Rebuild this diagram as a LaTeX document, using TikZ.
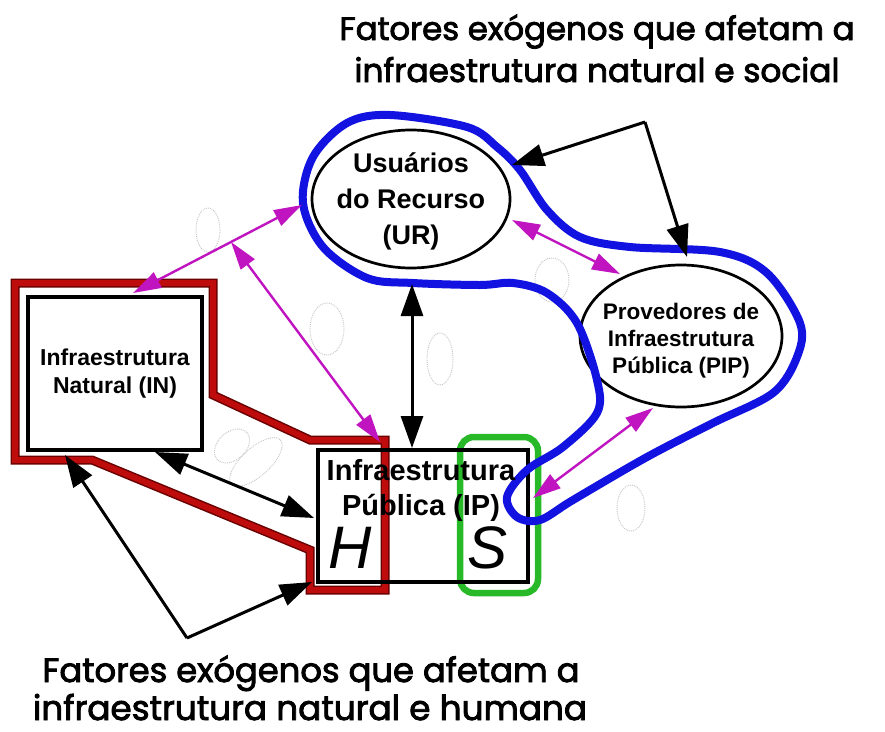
\documentclass[tikz,border=0pt]{standalone}
\usepackage{graphicx}
\usepackage{fontspec}
\setmainfont{Liberation Sans}
\newfontfamily\titlefont[FakeBold=2.5]{Poppins}
\usetikzlibrary{shapes.geometric,arrows.meta,calc}
\definecolor{myblue}{RGB}{18,18,225}
\definecolor{myred}{RGB}{190,12,12}
\definecolor{darkred}{RGB}{105,0,0}
\definecolor{mygreen}{RGB}{40,185,40}
\definecolor{mymag}{RGB}{192,20,192}
\begin{document}
\begin{tikzpicture}[x=1pt,y=-1pt,
  blk/.style={line width=3pt, black},
  bar/.style={blk,{Triangle[length=32pt,width=22pt]}-{Triangle[length=32pt,width=22pt]}},
  sar/.style={blk,-{Triangle[length=32pt,width=22pt]}},
  mag/.style={line width=2.4pt, mymag, {Triangle[length=28pt,width=17pt]}-{Triangle[length=28pt,width=17pt]}},
  ghost/.style={gray!45, densely dotted, line width=0.9pt},
  oval/.style={ellipse, draw, line width=2.7pt, fill=white, inner sep=0pt},
  boxn/.style={rectangle, draw, line width=3.2pt, inner sep=0pt},
  lbl/.style={align=center, inner sep=0pt, font=\bfseries},
  ttl/.style={inner sep=0pt, anchor=base},
  big/.style={inner sep=0pt, font=\fontsize{60}{60}\selectfont\itshape}
]
\useasboundingbox[fill=white] (0,0) rectangle (885,731);

% faint ghost ellipses
\draw[ghost] (208,230) ellipse [x radius=12, y radius=22];
\draw[ghost] (327,329) ellipse [x radius=17, y radius=26];
\draw[ghost] (440,359) ellipse [x radius=13, y radius=26];
\draw[ghost] (552,280) ellipse [x radius=17, y radius=22];
\draw[ghost] (631,508) ellipse [x radius=14, y radius=23];
\draw[ghost, rotate around={42:(256,462)}] (256,462) ellipse [x radius=33, y radius=14];
\draw[ghost, rotate around={42:(232,446)}] (232,446) ellipse [x radius=20, y radius=14];

% titles
\node[ttl] (t1) at (597,40) {\titlefont\resizebox{515pt}{!}{Fatores exógenos que afetam a}};
\node[ttl] (t2) at (597,82) {\titlefont\resizebox{485pt}{!}{infraestrutura natural e social}};
\node[ttl] (b1) at (311,682) {\titlefont\resizebox{537pt}{!}{Fatores exógenos que afetam a}};
\node[ttl] (b2) at (310,720) {\titlefont\resizebox{554pt}{!}{infraestrutura natural e humana}};

% IP box fill
\node[rectangle, fill=white, minimum width=210pt, minimum height=132pt, inner sep=0pt] (ipfill) at (423,516) {};

% red outline (natural/human)
\draw[darkred, line width=9pt, line join=miter]
  (15,283) -- (213,283) -- (213,395) -- (310,440) -- (385,440) -- (385,590)
  -- (310,590) -- (310,550) -- (92,460) -- (15,460) -- cycle;
\draw[myred, line width=6pt, line join=miter]
  (15,283) -- (213,283) -- (213,395) -- (310,440) -- (385,440) -- (385,590)
  -- (310,590) -- (310,550) -- (92,460) -- (15,460) -- cycle;

% green rounded rectangle (S)
\draw[mygreen, line width=6.5pt, rounded corners=14pt] (460,437) rectangle (538,593);

% boxes
\node[boxn, fill=white, minimum width=174pt, minimum height=153pt] (in) at (115,373.5) {};
\node[boxn, minimum width=210pt, minimum height=132pt] (ip) at (423,516) {};

% ellipses
\node[oval, minimum width=198pt, minimum height=138pt] (ur) at (411,199) {};
\node[oval, minimum width=202pt, minimum height=142pt] (pip) at (681,336) {};

% blue loop
\draw[myblue, line width=8pt] plot[smooth cycle, tension=0.55] coordinates {
  (390,115) (467,127) (497,147) (520,170) (547,210) (580,237) (630,247)
  (720,252) (767,273) (800,323) (797,357) (773,393) (713,423) (647,457)
  (573,500) (540,520) (517,517) (507,497) (527,470) (563,447) (597,413)
  (597,380) (577,323) (547,293) (513,283) (480,285) (413,283) (367,278)
  (323,247) (303,203) (313,157) (347,123)};

% coordinates for connectors
\coordinate (topx) at (645,122);
\coordinate (urNE) at (512,165);
\coordinate (pipN) at (687,257);
\coordinate (urS) at (412,284);
\coordinate (ipN) at (412,448);
\coordinate (inS) at (155,452);
\coordinate (ipW) at (314,518);
\coordinate (botx) at (187,638);
\coordinate (inSW) at (65,455);
\coordinate (ipSW) at (312,582);
\coordinate (inN) at (133,293);
\coordinate (urW) at (302,205);
\coordinate (midA) at ($(inN)!0.58!(urW)$);
\coordinate (ipNW) at (380,442);
\coordinate (urSE) at (512,220);
\coordinate (pipNW) at (620,274);
\coordinate (pipS) at (653,408);
\coordinate (ipE) at (533,498);

% black connectors
\draw[sar] (topx) -- (urNE);
\draw[sar] (topx) -- (pipN);
\draw[bar] (urS) -- (ipN);
\draw[bar] (inS) -- (ipW);
\draw[sar] (botx) -- (inSW);
\draw[sar] (botx) -- (ipSW);

% magenta connectors
\draw[mag] (inN) -- (urW);
\draw[mag] (midA) -- (ipNW);
\draw[mag] (urSE) -- (pipNW);
\draw[mag] (pipS) -- (ipE);

% labels
\node[lbl, font=\bfseries\fontsize{27}{36}\selectfont] (urt) at (411,201) {Usuários\\do Recurso\\(UR)};
\node[lbl, font=\bfseries\fontsize{22.5}{27}\selectfont] (pipt) at (681,341) {Provedores de\\Infraestrutura\\Pública (PIP)};
\node[lbl, font=\bfseries\fontsize{23}{28}\selectfont] (int) at (115,374) {Infraestrutura\\Natural (IN)};
\node[lbl, font=\bfseries\fontsize{29}{35}\selectfont] (ipt) at (421,490) {Infraestrutura\\Pública (IP)};
\node[big] (h) at (350,548) {H};
\node[big] (s) at (488,548) {S};
\end{tikzpicture}
\end{document}
